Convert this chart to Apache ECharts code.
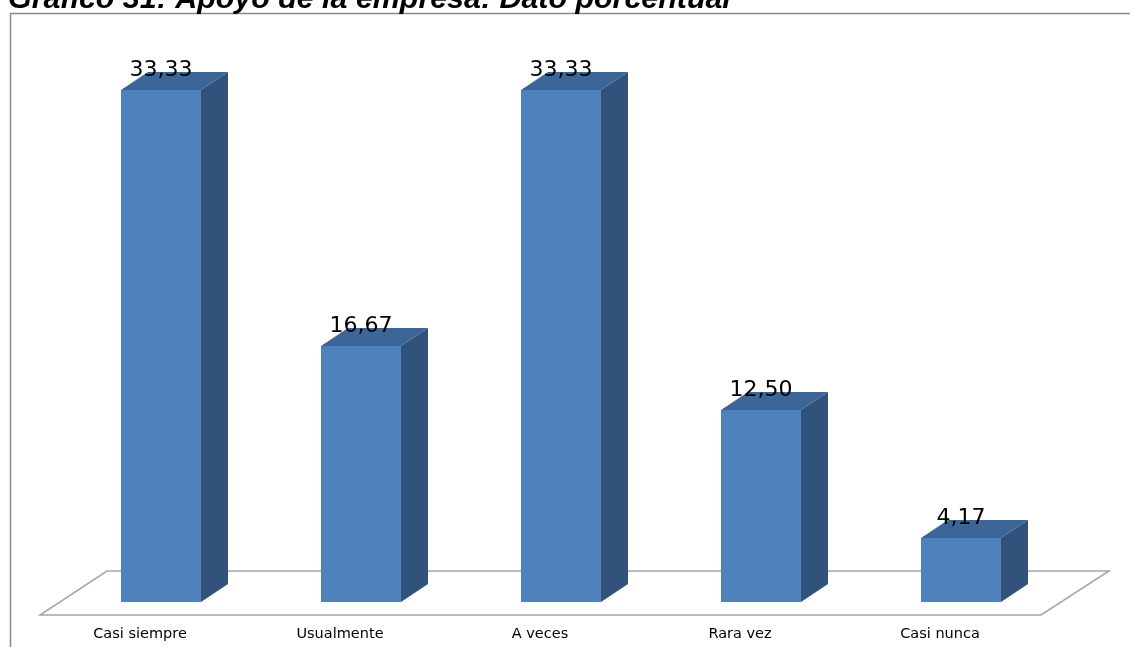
<!DOCTYPE html>
<html>
<head>
<meta charset="utf-8">
<script src="https://cdn.jsdelivr.net/npm/echarts@6/dist/echarts.min.js"></script>
<style>
  html, body { margin: 0; padding: 0; background: #ffffff; }
  #chart { width: 1130px; height: 647px; }
</style>
</head>
<body>
<div id="chart"></div>
<script>
// Apoyo de la empresa: porcentaje de respuestas por categoría
const TITLE = 'Gráfico 31: Apoyo de la empresa: Dato porcentual';
const CATEGORIES = ['Casi siempre', 'Usualmente', 'A veces', 'Rara vez', 'Casi nunca'];
const VALUES = [33.33, 16.67, 33.33, 12.50, 4.17];

const formatValue = v => v.toFixed(2).replace('.', ',');

// 3D extrusion of each bar (pixels)
const DEPTH_X = 27;
const DEPTH_Y = -18;

const chart = echarts.init(document.getElementById('chart'), null, { renderer: 'canvas' });

function renderBar(params, api) {
  const idx = api.value(0);
  const val = api.value(1);
  const base = api.coord([idx, 0]);
  const top = api.coord([idx, val]);
  const w = api.size([1, 0])[0] * 0.4;
  const x0 = base[0] - w / 2;
  const x1 = x0 + w;
  const yb = base[1];
  const yt = top[1];
  return {
    type: 'group',
    children: [
      {
        type: 'polygon',
        shape: { points: [[x1, yt], [x1 + DEPTH_X, yt + DEPTH_Y], [x1 + DEPTH_X, yb + DEPTH_Y], [x1, yb]] },
        style: { fill: '#31527b' }
      },
      {
        type: 'polygon',
        shape: { points: [[x0, yt], [x1, yt], [x1 + DEPTH_X, yt + DEPTH_Y], [x0 + DEPTH_X, yt + DEPTH_Y]] },
        style: { fill: '#3c6698' }
      },
      {
        type: 'rect',
        shape: { x: x0, y: yt, width: w, height: yb - yt },
        style: { fill: '#4f81bd' }
      },
      {
        type: 'text',
        x: base[0],
        y: yt - 20,
        style: {
          text: formatValue(val),
          font: '22px "DejaVu Sans"',
          fill: '#000000',
          align: 'center',
          verticalAlign: 'middle'
        }
      }
    ]
  };
}

function renderFloor(params, api) {
  const n = CATEGORIES.length;
  const band = api.size([1, 0])[0];
  const first = api.coord([0, 0]);
  const last = api.coord([n - 1, 0]);
  const left = first[0] - band / 2;
  const right = last[0] + band / 2;
  const y = first[1];
  return {
    type: 'polygon',
    shape: {
      points: [
        [left - 21, y + 13],
        [right - 20, y + 13],
        [right + 48, y - 31],
        [left + 46, y - 31]
      ]
    },
    style: { fill: '#ffffff', stroke: '#a6a6a6', lineWidth: 1.5 }
  };
}

chart.setOption({
  animation: false,
  backgroundColor: '#ffffff',
  graphic: [
    {
      type: 'polyline',
      shape: { points: [[10.5, 650], [10.5, 13.5], [1132, 13.5]] },
      style: { stroke: '#8a8a8a', lineWidth: 1.5, fill: null },
      z: 10
    },
    {
      type: 'text',
      left: 8,
      top: -15,
      style: {
        text: TITLE,
        font: 'italic bold 30.4px "Liberation Sans", Arial, sans-serif',
        fill: '#000000'
      },
      z: 10
    }
  ],
  grid: [
    { left: 61, right: 69, top: 64.4, bottom: 45 },
    { left: 40, right: 90, top: 64.4, bottom: 45 }
  ],
  xAxis: [
    {
      type: 'category',
      gridIndex: 0,
      data: CATEGORIES,
      axisLine: { show: false },
      axisTick: { show: false },
      axisLabel: { show: false },
      splitLine: { show: false }
    },
    {
      type: 'category',
      gridIndex: 1,
      data: CATEGORIES,
      axisLine: { show: false },
      axisTick: { show: false },
      splitLine: { show: false },
      axisLabel: {
        margin: 25,
        interval: 0,
        color: '#000000',
        fontFamily: 'DejaVu Sans',
        fontSize: 14.5
      }
    }
  ],
  yAxis: [
    { type: 'value', gridIndex: 0, min: 0, max: 35, show: false },
    { type: 'value', gridIndex: 1, min: 0, max: 35, show: false }
  ],
  series: [
    {
      type: 'custom',
      name: 'piso',
      xAxisIndex: 0,
      yAxisIndex: 0,
      renderItem: renderFloor,
      data: [[0, 0]],
      z: 1,
      silent: true
    },
    {
      type: 'custom',
      name: 'Porcentaje',
      xAxisIndex: 0,
      yAxisIndex: 0,
      renderItem: renderBar,
      data: VALUES.map((v, i) => [i, v]),
      z: 2
    }
  ]
});
</script>
</body>
</html>
